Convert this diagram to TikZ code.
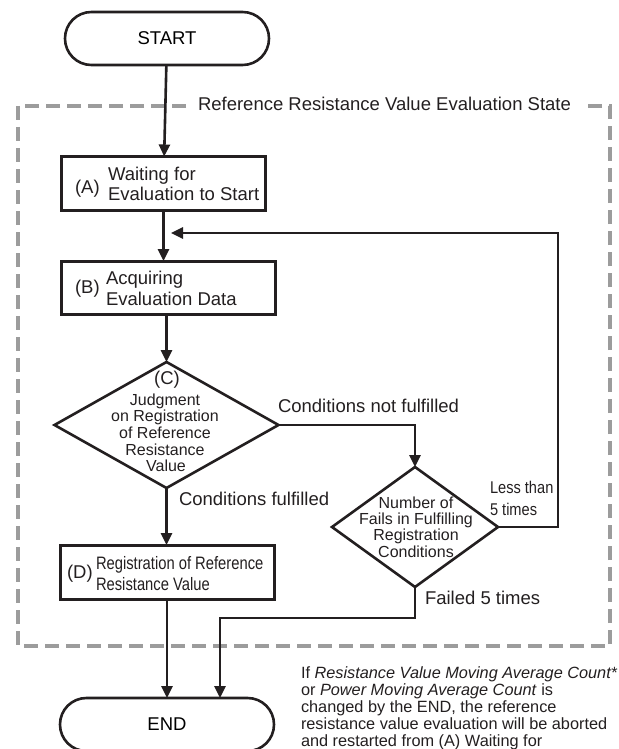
\documentclass[tikz,border=0pt]{standalone}
\usepackage{fontspec}
\setmainfont{Liberation Sans}
\newfontfamily\narrowfont[FakeStretch=0.82]{Liberation Sans}
\newfontfamily\semifont[FakeStretch=0.86]{Liberation Sans}
\usetikzlibrary{arrows.meta,shapes.geometric}
\definecolor{lc}{HTML}{231F20}
\definecolor{dashgray}{HTML}{9C9C9C}
\tikzset{
  every node/.style={inner sep=0pt, outer sep=0pt},
  terminal/.style={draw=lc, line width=2.6pt, rounded corners=26.4pt,
    minimum width=204pt, minimum height=53pt, font=\fontsize{18.5}{20}\selectfont},
  procbox/.style={draw=lc, line width=3pt, minimum height=54pt},
  decision/.style={draw=lc, line width=2.6pt, shape=diamond},
  flow/.style={draw=lc, line width=2.6pt, -{Triangle[length=12pt,width=11pt]}},
  dashbox/.style={draw=dashgray, line width=3.4pt, dash pattern=on 14pt off 7pt},
  txt/.style={anchor=base west, font=\fontsize{18.5}{20}\selectfont, text=lc},
  ctxt/.style={anchor=base, font=\fontsize{16}{17}\selectfont, text=lc},
  cbig/.style={anchor=base, font=\fontsize{18.5}{20}\selectfont, text=lc},
  narrowtxt/.style={anchor=base west, font=\narrowfont\fontsize{18}{20}\selectfont, text=lc},
  semitxt/.style={anchor=base west, font=\semifont\fontsize{17}{20}\selectfont, text=lc},
  notetxt/.style={anchor=base west, font=\fontsize{16.3}{17}\selectfont, text=lc},
}
\begin{document}
\begin{tikzpicture}[x=1pt,y=-1pt]
\useasboundingbox (0,0) rectangle (618,749);

% state frame
\draw[dashbox] (186,106) -- (18,106) -- (18,646) -- (610,646) -- (610,106) -- (583,106);
\node[txt] (statelabel) at (198,111) {Reference Resistance Value Evaluation State};

% terminals and boxes
\node[terminal] (start) at (167,38.5) {START};
\node[procbox, minimum width=204pt] (A) at (163.5,183.5) {};
\node[procbox, minimum width=214pt, minimum height=53pt] (B) at (168,287.5) {};
\node[decision, minimum width=224pt, minimum height=126pt] (C) at (166.5,425) {};
\node[procbox, minimum width=214pt] (D) at (167,572) {};
\node[decision, minimum width=166pt, minimum height=120pt] (F) at (415,527) {};
\node[terminal, minimum width=214pt] (end) at (167,724.5) {END};

% box texts
\node[txt] (Ap) at (75,193) {(A)};
\node[txt] (A1) at (108,180) {Waiting for};
\node[txt] (A2) at (108,200) {Evaluation to Start};

\node[txt] (Bp) at (75,293) {(B)};
\node[txt] (B1) at (106,284) {Acquiring};
\node[txt] (B2) at (106,305) {Evaluation Data};

\node[cbig] (Cp) at (167,384.5) {(C)};
\node[ctxt] (C1) at (165,405) {Judgment};
\node[ctxt] (C2) at (165,421.7) {on Registration};
\node[ctxt] (C3) at (165,438.4) {of Reference};
\node[ctxt] (C4) at (165,455.1) {Resistance};
\node[ctxt] (C5) at (166,471.8) {Value};

\node[txt] (Dp) at (67,578) {(D)};
\node[narrowtxt] (D1) at (96,569) {Registration of Reference};
\node[narrowtxt] (D2) at (96,590) {Resistance Value};

\node[ctxt] (F1) at (416,508) {Number of};
\node[ctxt] (F2) at (416,524.3) {Fails in Fulfilling};
\node[ctxt] (F3) at (416,540.6) {Registration};
\node[ctxt] (F4) at (416,557) {Conditions};

% connector coordinates
\coordinate (fbjoin) at (171,233);
\coordinate (fbcorner) at (558,233);
\coordinate (f5) at (220,618);

% connectors
\draw[flow] (start) -- (A);
\draw[flow] (A) -- (B.north -| A);
\draw[flow] (B.south -| C.north) -- (C.north);
\draw[flow] (C.south) -- (D.north -| C.south);
\draw[flow] (D.south -| end.north) -- (end.north);
\draw[flow] (C.east) -| (F.north);
\draw[flow] (F.east) -| (fbcorner) -- (fbjoin);
\draw[flow] (F.south) |- (f5) -- (f5 |- end.north);

% connector labels
\node[txt] (lnot) at (278,412) {Conditions not fulfilled};
\node[txt] (lok) at (179,505) {Conditions fulfilled};
\node[semitxt] (lless1) at (490,493) {Less than};
\node[semitxt] (lless2) at (490,515) {5 times};
\node[txt] (lfail) at (425,604) {Failed 5 times};

% note
\node[notetxt] (n1) at (301,678.3) {If \textit{Resistance Value Moving Average Count}*};
\node[notetxt] (n2) at (301,695.4) {or \textit{Power Moving Average Count} is};
\node[notetxt] (n3) at (301,712.5) {changed by the END, the reference};
\node[notetxt] (n4) at (301,729.6) {resistance value evaluation will be aborted};
\node[notetxt] (n5) at (301,746.7) {and restarted from (A) Waiting for};
\end{tikzpicture}
\end{document}
